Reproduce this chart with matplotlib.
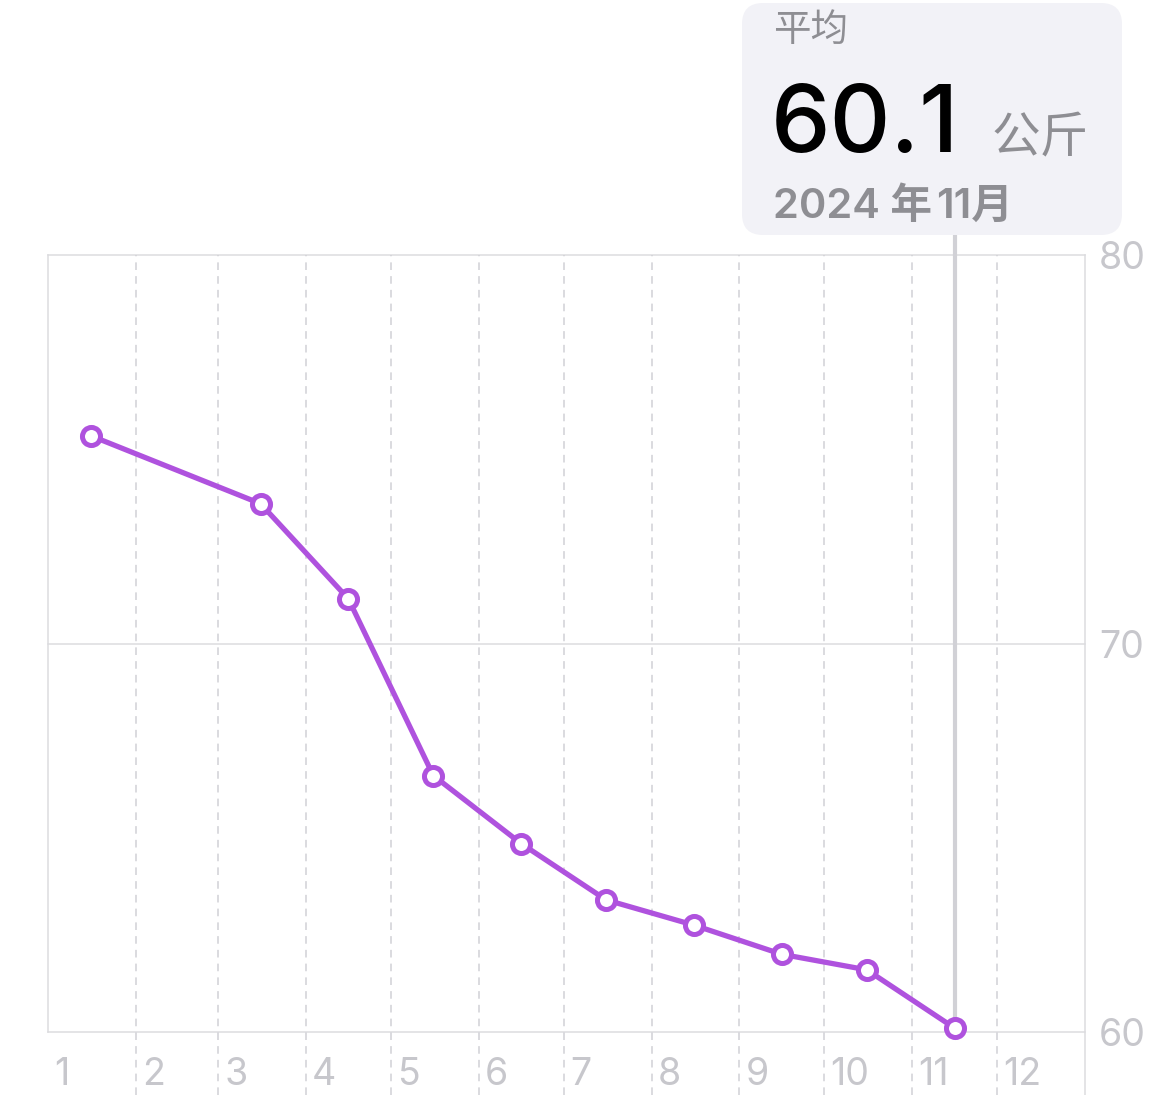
import numpy as np
import matplotlib
matplotlib.use("Agg")
import matplotlib.pyplot as plt
import matplotlib.transforms as mtransforms
from matplotlib.patches import FancyBboxPatch
from datetime import datetime

plt.rcParams['font.family'] = ['Inter', 'Noto Sans CJK SC', 'DejaVu Sans']

# === 数据 ===
dates = ["2024-01-16", "2024-03-16", "2024-04-16", "2024-05-16", "2024-06-16",
         "2024-07-16", "2024-08-16", "2024-09-16", "2024-10-16", "2024-11-16"]
weights = [75.35, 73.6, 71.15, 66.6, 64.85, 63.4, 62.75, 62.0, 61.6, 60.1]
month_labels = [str(m) for m in range(1, 13)]
y_ticks = [60, 70, 80]

sel_date = "2024-11-16"
sel_value = 60.1
tip_title = "平均"
tip_unit = "公斤"
tip_year = "2024 年"
tip_month = "11月"

purple = "#AF52DE"
grid_c = "#dcdcdf"
dash_c = "#d1d1d6"
label_c = "#c7c7cc"
tip_gray = "#8e8e93"

x = [datetime.strptime(d, "%Y-%m-%d") for d in dates]
month_starts = [datetime(2024, m, 1) for m in range(1, 13)]

W, H = 1170, 1095
fig = plt.figure(figsize=(W / 100, H / 100), dpi=100)
ax = fig.add_axes([48 / W, 1 - 1032 / H, (1085 - 48) / W, (1032 - 255) / H])

ax.set_xlim(datetime(2024, 1, 1), datetime(2025, 1, 1))
ax.set_ylim(60, 80)

for s in ax.spines.values():
    s.set_visible(False)
ax.set_xticks([])
ax.set_yticks([])

# 横向网格
for v in y_ticks:
    ax.axhline(v, color=grid_c, lw=1.1, zorder=1, clip_on=False)
# 左右边框
ax.axvline(datetime(2024, 1, 1), color=grid_c, lw=1.1, zorder=1, clip_on=False)
ax.axvline(datetime(2025, 1, 1), ymin=-0.081, ymax=1, color=grid_c, lw=1.1,
           zorder=1, clip_on=False)
# 月份虚线
for ms in month_starts[1:]:
    ax.axvline(ms, ymin=-0.081, ymax=1, color=dash_c, lw=1.1, dashes=(5, 4),
               zorder=1, clip_on=False)

# 月份标签
lab_tr = mtransforms.offset_copy(ax.get_xaxis_transform(), fig=fig, x=4.5, y=-31,
                                 units='points')
for ms, lab in zip(month_starts, month_labels):
    ax.text(ms, 0, lab, transform=lab_tr, ha='left', va='center',
            fontsize=27, color=label_c)

# y 轴标签 (右侧)
ylab_tr = mtransforms.offset_copy(ax.get_yaxis_transform(), fig=fig, x=10, y=-3,
                                  units='points')
for v in y_ticks:
    ax.text(1, v, str(v), transform=ylab_tr, ha='left', va='center',
            fontsize=27, color=label_c)

# 选中指示线
sel_x = datetime.strptime(sel_date, "%Y-%m-%d")
ax.axvline(sel_x, ymin=(sel_value - 60) / 20, ymax=(1032 - 235) / (1032 - 255),
           color=dash_c, lw=3, zorder=2, clip_on=False)

# 折线
ax.plot(x, weights, color=purple, lw=3.8, zorder=3, solid_capstyle='round')
ax.plot(x, weights, 'o', ms=13, mfc='white', mec=purple, mew=3.6, zorder=4,
        clip_on=False)

# 提示框
box = FancyBboxPatch((742 / W, 1 - 235 / H), (1122 - 742) / W, (235 - 3) / H,
                     boxstyle="round,pad=0,rounding_size=0.018",
                     transform=fig.transFigure, fc="#f2f2f7", ec='none',
                     mutation_aspect=W / H)
fig.patches.append(box)

fig.text(773 / W, 1 - 31 / H, tip_title, ha='left', va='center', fontsize=27,
         color=tip_gray)
fig.text(771 / W, 1 - 152 / H, f"{sel_value:.1f}", ha='left', va='baseline',
         fontsize=68, fontweight='medium', color='black')
fig.text(992 / W, 1 - 152 / H, tip_unit, ha='left', va='baseline', fontsize=35,
         color=tip_gray)
fig.text(773 / W, 1 - 218 / H, tip_year, ha='left', va='baseline', fontsize=30,
         fontweight='semibold', color=tip_gray)
fig.text(936 / W, 1 - 218 / H, tip_month, ha='left', va='baseline', fontsize=30,
         fontweight='semibold', color=tip_gray)

fig.savefig("out.png", dpi=100, facecolor='white')
plt.close()
